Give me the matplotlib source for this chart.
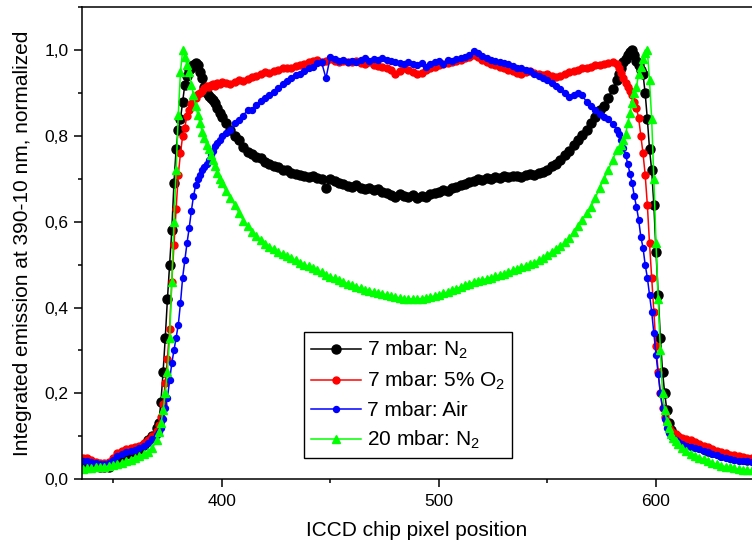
import matplotlib
matplotlib.use("Agg")
import matplotlib.pyplot as plt
from matplotlib.ticker import MultipleLocator, FuncFormatter

plt.rcParams['font.family'] = ['Liberation Sans', 'DejaVu Sans']
plt.rcParams['mathtext.fontset'] = 'custom'
plt.rcParams['mathtext.rm'] = 'Liberation Sans'
plt.rcParams['mathtext.it'] = 'Liberation Sans'

# pixel positions: coarse on the flat parts, fine on the steep edges
pixel = (list(range(336, 371, 2)) + list(range(371, 401)) +
         list(range(402, 583, 2)) + list(range(583, 611)) +
         list(range(612, 645, 2)))

# 7 mbar N2
n2_7 = [0.035, 0.034, 0.032, 0.030, 0.028, 0.027, 0.029, 0.035, 0.045, 0.052, 0.058, 0.062, 0.066, 0.070, 0.080, 0.090, 0.100, 0.118,
        0.13, 0.18, 0.25, 0.33, 0.42, 0.50, 0.58, 0.69, 0.77, 0.815, 0.84, 0.88, 0.92, 0.94, 0.955,
        0.96, 0.965, 0.97, 0.965, 0.95, 0.935, 0.915, 0.90, 0.893, 0.89, 0.885, 0.877, 0.865, 0.855, 0.845,
        0.83, 0.815, 0.80, 0.79, 0.775, 0.763, 0.758, 0.752, 0.748, 0.74,
        0.735, 0.73, 0.727, 0.722, 0.72, 0.715, 0.712, 0.71, 0.708, 0.705,
        0.707, 0.703, 0.70, 0.68, 0.70, 0.695, 0.69, 0.688, 0.684, 0.682,
        0.685, 0.678, 0.676, 0.68, 0.675, 0.677, 0.67, 0.668, 0.662, 0.658,
        0.665, 0.66, 0.657, 0.662, 0.655, 0.66, 0.658, 0.665, 0.668, 0.67,
        0.675, 0.672, 0.678, 0.682, 0.685, 0.688, 0.692, 0.696, 0.70, 0.698,
        0.702, 0.70, 0.704, 0.702, 0.706, 0.704, 0.706, 0.708, 0.705, 0.71,
        0.712, 0.71, 0.714, 0.716, 0.722, 0.73, 0.735, 0.745, 0.755, 0.765,
        0.78, 0.792, 0.802, 0.815, 0.83, 0.845, 0.86, 0.87, 0.89, 0.91,
        0.93,
        0.945, 0.96, 0.972, 0.98, 0.99, 0.997, 1.0, 0.99, 0.975, 0.965, 0.955, 0.945, 0.90, 0.84,
        0.77, 0.72, 0.64, 0.53, 0.43, 0.33, 0.25, 0.20, 0.16, 0.13, 0.115, 0.105, 0.10, 0.095,
        0.09, 0.086, 0.082, 0.078, 0.074, 0.07, 0.066, 0.063, 0.06, 0.057, 0.055, 0.052, 0.05, 0.048, 0.046, 0.045, 0.044]

# 7 mbar 5% O2
o2_7 = [0.050, 0.050, 0.045, 0.040, 0.037, 0.037, 0.040, 0.050, 0.060, 0.066, 0.070, 0.073, 0.075, 0.078, 0.085, 0.090, 0.100, 0.112,
        0.125, 0.145, 0.175, 0.225, 0.28, 0.35, 0.46, 0.545, 0.63, 0.71, 0.76, 0.80, 0.82, 0.848, 0.86,
        0.875, 0.887, 0.89, 0.898, 0.90, 0.905, 0.912, 0.918, 0.915, 0.92, 0.922, 0.918, 0.925, 0.922, 0.926,
        0.925, 0.922, 0.926, 0.93, 0.928, 0.934, 0.937, 0.94, 0.946, 0.95,
        0.948, 0.953, 0.955, 0.958, 0.96, 0.958, 0.963, 0.966, 0.968, 0.972,
        0.975, 0.978, 0.972, 0.976, 0.98, 0.975, 0.972, 0.976, 0.974, 0.972,
        0.976, 0.97, 0.968, 0.972, 0.966, 0.964, 0.962, 0.958, 0.955, 0.945,
        0.952, 0.958, 0.955, 0.95, 0.945, 0.948, 0.955, 0.96, 0.962, 0.965,
        0.968, 0.97, 0.972, 0.975, 0.978, 0.982, 0.985, 0.99, 0.985, 0.978,
        0.972, 0.968, 0.965, 0.962, 0.958, 0.955, 0.952, 0.948, 0.945, 0.95,
        0.952, 0.948, 0.945, 0.942, 0.944, 0.94, 0.938, 0.94, 0.946, 0.95,
        0.953, 0.955, 0.958, 0.96, 0.962, 0.965, 0.966, 0.968, 0.97, 0.972,
        0.968,
        0.96, 0.947, 0.935, 0.925, 0.915, 0.905, 0.895, 0.88, 0.865, 0.842, 0.80, 0.76, 0.71, 0.64,
        0.55, 0.47, 0.39, 0.31, 0.25, 0.20, 0.165, 0.145, 0.13, 0.12, 0.113, 0.108, 0.104, 0.10,
        0.096, 0.093, 0.09, 0.086, 0.082, 0.078, 0.074, 0.07, 0.066, 0.062, 0.06, 0.057, 0.055, 0.053, 0.052, 0.05, 0.049]

# 7 mbar air
air_7 = [0.042, 0.042, 0.040, 0.037, 0.035, 0.035, 0.037, 0.045, 0.053, 0.058, 0.062, 0.065, 0.068, 0.072, 0.078, 0.085, 0.093, 0.102,
         0.11, 0.12, 0.14, 0.165, 0.19, 0.23, 0.27, 0.30, 0.33, 0.36, 0.41, 0.47, 0.51, 0.55, 0.585,
         0.625, 0.66, 0.685, 0.70, 0.71, 0.72, 0.728, 0.735, 0.745, 0.755, 0.765, 0.778, 0.785, 0.792, 0.80,
         0.808, 0.815, 0.83, 0.838, 0.848, 0.862, 0.86, 0.872, 0.882, 0.89,
         0.895, 0.902, 0.912, 0.922, 0.928, 0.935, 0.942, 0.946, 0.952, 0.958,
         0.962, 0.97, 0.972, 0.935, 0.985, 0.98, 0.975, 0.978, 0.974, 0.976,
         0.972, 0.978, 0.982, 0.976, 0.98, 0.978, 0.982, 0.978, 0.975, 0.972,
         0.97, 0.968, 0.972, 0.968, 0.965, 0.97, 0.962, 0.968, 0.972, 0.975,
         0.968, 0.978, 0.975, 0.98, 0.982, 0.985, 0.99, 0.998, 0.995, 0.988,
         0.982, 0.978, 0.975, 0.972, 0.97, 0.968, 0.964, 0.96, 0.958, 0.955,
         0.952, 0.945, 0.94, 0.935, 0.93, 0.925, 0.918, 0.91, 0.90, 0.892,
         0.895, 0.90, 0.895, 0.88, 0.87, 0.862, 0.852, 0.845, 0.84, 0.828,
         0.815,
         0.805, 0.79, 0.772, 0.755, 0.735, 0.712, 0.69, 0.66, 0.635, 0.605, 0.565, 0.54, 0.50, 0.47,
         0.43, 0.39, 0.34, 0.29, 0.245, 0.20, 0.165, 0.14, 0.12, 0.108, 0.10, 0.094, 0.09, 0.087,
         0.082, 0.078, 0.075, 0.072, 0.07, 0.066, 0.062, 0.058, 0.055, 0.052, 0.05, 0.047, 0.045, 0.043, 0.042, 0.041, 0.04]

# 20 mbar N2
n2_20 = [0.024, 0.025, 0.026, 0.027, 0.028, 0.029, 0.030, 0.032, 0.035, 0.038, 0.041, 0.045, 0.049, 0.053, 0.058, 0.063, 0.072, 0.090,
         0.11, 0.13, 0.16, 0.20, 0.25, 0.33, 0.46, 0.60, 0.72, 0.85, 0.95, 1.0, 0.985, 0.965, 0.95,
         0.92, 0.895, 0.87, 0.85, 0.83, 0.81, 0.795, 0.78, 0.77, 0.755, 0.745, 0.73, 0.715, 0.70, 0.69,
         0.672, 0.655, 0.64, 0.62, 0.602, 0.59, 0.577, 0.567, 0.557, 0.548,
         0.542, 0.536, 0.53, 0.525, 0.52, 0.516, 0.51, 0.505, 0.50, 0.496,
         0.492, 0.487, 0.482, 0.477, 0.472, 0.468, 0.464, 0.46, 0.456, 0.452,
         0.449, 0.445, 0.442, 0.439, 0.436, 0.434, 0.432, 0.43, 0.427, 0.425,
         0.422, 0.421, 0.42, 0.421, 0.42, 0.421, 0.423, 0.425, 0.427, 0.43,
         0.433, 0.436, 0.44, 0.444, 0.448, 0.452, 0.456, 0.459, 0.462, 0.465,
         0.467, 0.47, 0.473, 0.476, 0.479, 0.483, 0.487, 0.49, 0.494, 0.497,
         0.501, 0.505, 0.51, 0.516, 0.523, 0.53, 0.536, 0.543, 0.552, 0.563,
         0.576, 0.59, 0.605, 0.62, 0.635, 0.655, 0.68, 0.70, 0.72, 0.745,
         0.768,
         0.77, 0.78, 0.79, 0.805, 0.83, 0.855, 0.878, 0.90, 0.915, 0.945, 0.962, 0.98, 0.995, 1.0,
         0.93, 0.84, 0.70, 0.55, 0.42, 0.30, 0.20, 0.16, 0.135, 0.118, 0.105, 0.095, 0.088, 0.082,
         0.072, 0.065, 0.059, 0.054, 0.05, 0.046, 0.042, 0.038, 0.034, 0.031, 0.029, 0.027, 0.025, 0.023, 0.022, 0.021, 0.02]

labels = [r'7 mbar: N$_\mathrm{2}$', r'7 mbar: 5% O$_\mathrm{2}$', '7 mbar: Air', r'20 mbar: N$_\mathrm{2}$']

fig = plt.figure(figsize=(7.52, 5.47), dpi=100)
ax = fig.add_axes([0.1086, 0.1243, 0.8914, 0.862])

ax.plot(pixel, n2_7, color='#000000', lw=1.1, marker='o', ms=6.5, label=labels[0])
ax.plot(pixel, o2_7, color='#ff0000', lw=1.1, marker='o', ms=5.0, label=labels[1])
ax.plot(pixel, air_7, color='#0000ff', lw=1.1, marker='o', ms=4.3, label=labels[2])
ax.plot(pixel, n2_20, color='#00ff00', lw=1.1, marker='^', ms=6.0, label=labels[3])

ax.set_xlim(335.5, 644.2)
ax.set_ylim(0, 1.1)

ax.xaxis.set_major_locator(MultipleLocator(100))
ax.xaxis.set_minor_locator(MultipleLocator(50))
ax.yaxis.set_major_locator(MultipleLocator(0.2))
ax.yaxis.set_minor_locator(MultipleLocator(0.1))
ax.yaxis.set_major_formatter(FuncFormatter(lambda v, p: f'{v:.1f}'.replace('.', ',')))

ax.tick_params(which='major', direction='out', length=5.5, width=1.1, labelsize=12.5, pad=4)
ax.tick_params(which='minor', direction='out', length=3, width=1.1)
ax.tick_params(axis='x', which='major', pad=5)

for side in ['left', 'bottom', 'top']:
  ax.spines[side].set_linewidth(1.1)
ax.spines['right'].set_visible(False)

ax.set_xlabel('ICCD chip pixel position', fontsize=15, labelpad=9)
ax.set_ylabel('Integrated emission at 390-10 nm, normalized', fontsize=15, labelpad=9)

leg = ax.legend(loc='upper left', bbox_to_anchor=(0.3317, 0.3124), fontsize=15,
                handlelength=2.4, handletextpad=0.25, labelspacing=0.42,
                borderpad=0.35, borderaxespad=0, fancybox=False,
                edgecolor='black', framealpha=1, numpoints=1)
leg.get_frame().set_linewidth(1.0)

fig.savefig('out.png', dpi=100)
